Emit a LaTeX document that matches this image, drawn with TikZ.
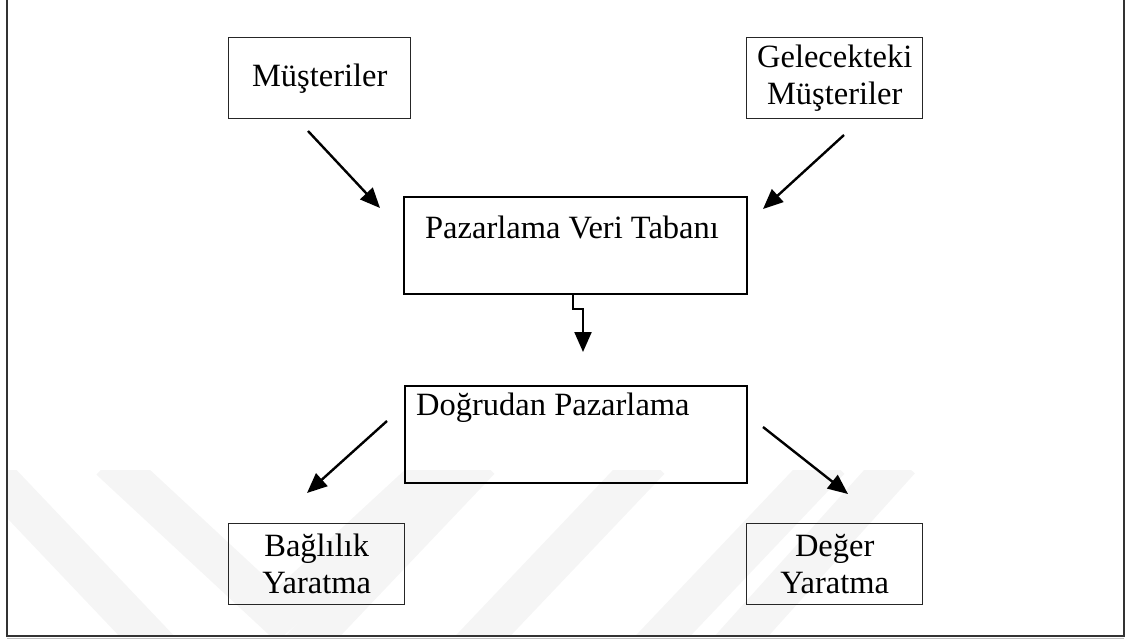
\documentclass[tikz,border=0pt]{standalone}
\usepackage{fontspec}
\setmainfont{Liberation Serif}
\usetikzlibrary{arrows.meta}
\begin{document}
\begin{tikzpicture}[x=1pt,y=-1pt,
  smallbox/.style={draw=black!85,line width=1.4pt,inner sep=0pt,anchor=north west},
  bigbox/.style={draw=black,line width=2.2pt,inner sep=0pt,anchor=north west},
  txt/.style={inner sep=0pt,font=\fontsize{32.5}{37}\selectfont,align=center},
  arr/.style={line width=2.4pt,-{Triangle[length=20pt,width=17pt]}},
  band/.style={line width=40pt,color=black!4,line cap=butt}]
\useasboundingbox (0,0) rectangle (1129,639);
% watermark bands
\begin{scope}
\clip (7,470) rectangle (1124,636);
\draw[band] (-30,450) -- (160,650);
\draw[band] (110,460) -- (277,615) -- (445,460);
\draw[band] (290,660) -- (480,460);
\draw[band] (460,660) -- (650,460);
\draw[band] (640,660) -- (830,460);
\draw[band] (720,660) -- (900,460);
\end{scope}
% frame
\draw[line width=1.6pt,black!80] (7,-5) -- (7,636) -- (1124,636) -- (1124,-5);
\draw[line width=1.5pt,black!25] (7,638.3) -- (1124,638.3);
% boxes
\node[smallbox,minimum width=182pt,minimum height=81pt] (mus) at (228,37) {};
\node[txt] (must) at (mus.center) {Müşteriler};
\node[smallbox,minimum width=176pt,minimum height=81pt] (gel) at (746,37) {};
\node[txt] (gelt) at (gel.center) {Gelecekteki\\Müşteriler};
\node[bigbox,minimum width=343pt,minimum height=97pt] (pvt) at (403,196) {};
\node[txt,anchor=base] (pvtt) at (572,238) {Pazarlama Veri Tabanı};
\node[bigbox,minimum width=342pt,minimum height=97pt] (dp) at (404,385) {};
\node[txt,anchor=base west] (dpt) at (416,415) {Doğrudan Pazarlama};
\node[smallbox,minimum width=176pt,minimum height=81pt] (bag) at (228,523) {};
\node[txt] (bagt) at (bag.center) {Bağlılık\\Yaratma};
\node[smallbox,minimum width=176pt,minimum height=81pt] (deg) at (746,523) {};
\node[txt] (degt) at (deg.center) {Değer\\Yaratma};
% arrow end points
\coordinate (a1s) at (308,131); \coordinate (a1e) at (380,208);
\coordinate (a2s) at (844,135); \coordinate (a2e) at (763,209);
\coordinate (a3s) at (387,421); \coordinate (a3e) at (307,493);
\coordinate (a4s) at (763,427); \coordinate (a4e) at (848,494);
\coordinate (jag) at (583,352);
\draw[arr] (a1s) -- (a1e);
\draw[arr] (a2s) -- (a2e);
\draw[arr] (a3s) -- (a3e);
\draw[arr] (a4s) -- (a4e);
\draw[arr,line width=2.2pt] (pvt.south -| 573,0) -- (573,309) -- (583,309) -- (jag);
\end{tikzpicture}
\end{document}
